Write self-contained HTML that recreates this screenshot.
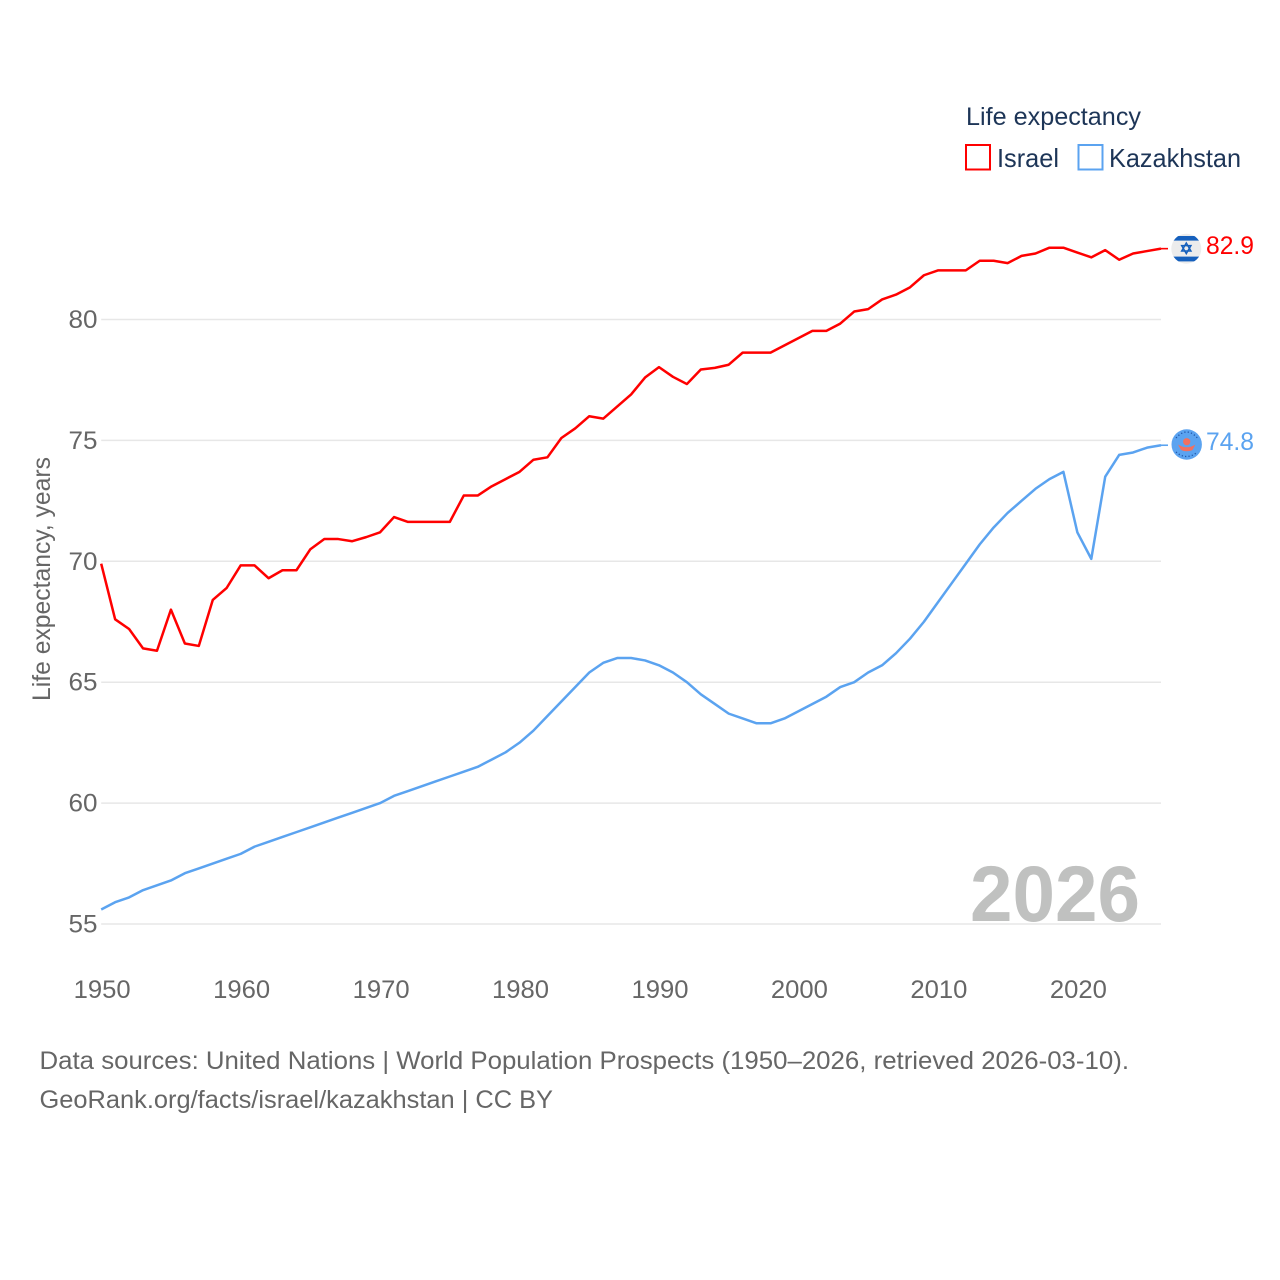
<!DOCTYPE html>
<html lang="en">
<head>
<meta charset="utf-8">
<title>Life expectancy: Israel and Kazakhstan</title>
<style>
html,body{margin:0;padding:0;background:#fff;}
svg{display:block;font-family:"Liberation Sans",sans-serif;}
</style>
</head>
<body>
<svg id="chart" xmlns="http://www.w3.org/2000/svg" width="1280" height="1280" viewBox="0 0 1280 1280">
  <rect x="0" y="0" width="1280" height="1280" fill="#ffffff"/>
  <g id="grid"></g>
  <g id="yticks"></g>
  <g id="xticks"></g>
  <text x="970" y="921" font-size="79" font-weight="700" fill="#c0c1c0" textLength="170" lengthAdjust="spacingAndGlyphs">2026</text>
  <g id="series"></g>
  <g id="end-labels"></g>

  <text transform="translate(50,701) rotate(-90)" font-size="25" fill="#666666" textLength="244" lengthAdjust="spacingAndGlyphs">Life expectancy, years</text>

  <g>
    <text x="966" y="125" font-size="25" fill="#1d3557" textLength="175" lengthAdjust="spacingAndGlyphs">Life expectancy</text>
    <g>
      <rect x="966" y="145" width="24" height="24.5" fill="none" stroke="#ff0000" stroke-width="2"/>
      <text x="997" y="167" font-size="26" fill="#1d3557" textLength="62" lengthAdjust="spacingAndGlyphs">Israel</text>
    </g>
    <g>
      <rect x="1078.5" y="145" width="24" height="24.5" fill="none" stroke="#5ba3f0" stroke-width="2"/>
      <text x="1109" y="167" font-size="26" fill="#1d3557" textLength="132" lengthAdjust="spacingAndGlyphs">Kazakhstan</text>
    </g>
  </g>

  <defs>
    <clipPath id="clip-il"><circle cx="1186.3" cy="248.7" r="15"/></clipPath>
    <clipPath id="clip-kz"><circle cx="1186.7" cy="444.5" r="15.2"/></clipPath>
  </defs>
  <g clip-path="url(#clip-il)">
    <rect x="1170" y="233" width="34" height="32" fill="#ececec"/>
    <rect x="1170" y="236" width="34" height="4.6" fill="#1560bd"/>
    <rect x="1170" y="256.6" width="34" height="4.8" fill="#1560bd"/>
    <polygon points="1186.3,243 1190.9,251 1181.7,251" fill="none" stroke="#1560bd" stroke-width="1.5"/>
    <polygon points="1186.3,253.6 1190.9,245.6 1181.7,245.6" fill="none" stroke="#1560bd" stroke-width="1.5"/>
  </g>
  <g clip-path="url(#clip-kz)">
    <rect x="1170" y="428" width="34" height="34" fill="#5ba3f0"/>
    <circle cx="1186.7" cy="441.7" r="3.6" fill="#f2705f"/>
    <path d="M1178 444.5 Q1186.7 450 1195.4 444.5 L1192.5 450 Q1186.7 452.5 1181 450 Z" fill="#f2705f"/>
    <path d="M1176 438 Q1186.7 426 1197.4 438" fill="none" stroke="#1f55a8" stroke-width="1.3" stroke-dasharray="1.2 2.2"/>
    <path d="M1176 452 Q1186.7 461 1197.4 452" fill="none" stroke="#1f55a8" stroke-width="1.3" stroke-dasharray="1.2 2.2"/>
  </g>

  <g>
    <text x="39.5" y="1069" font-size="25" fill="#666666" textLength="1089.5" lengthAdjust="spacingAndGlyphs">Data sources: United Nations | World Population Prospects (1950–2026, retrieved 2026-03-10).</text>
    <text x="39.5" y="1108" font-size="25" fill="#666666" textLength="513.5" lengthAdjust="spacingAndGlyphs">GeoRank.org/facts/israel/kazakhstan | CC BY</text>
  </g>
</svg>
<script>
var years = [1950,1951,1952,1953,1954,1955,1956,1957,1958,1959,1960,1961,1962,1963,1964,1965,1966,1967,1968,1969,1970,1971,1972,1973,1974,1975,1976,1977,1978,1979,1980,1981,1982,1983,1984,1985,1986,1987,1988,1989,1990,1991,1992,1993,1994,1995,1996,1997,1998,1999,2000,2001,2002,2003,2004,2005,2006,2007,2008,2009,2010,2011,2012,2013,2014,2015,2016,2017,2018,2019,2020,2021,2022,2023,2024,2025,2026];
var israelValues = [69.9,67.6,67.2,66.4,66.3,68.0,66.6,66.5,68.4,68.9,69.83,69.83,69.3,69.63,69.63,70.5,70.92,70.92,70.83,71.0,71.2,71.83,71.63,71.63,71.63,71.63,72.72,72.72,73.1,73.4,73.7,74.2,74.3,75.1,75.5,76.0,75.9,76.4,76.9,77.6,78.03,77.63,77.33,77.93,78.0,78.13,78.63,78.63,78.63,78.93,79.23,79.53,79.53,79.83,80.33,80.43,80.83,81.03,81.33,81.83,82.03,82.03,82.03,82.43,82.43,82.33,82.63,82.73,82.97,82.97,82.77,82.57,82.87,82.47,82.73,82.83,82.93];
var kazakhstanValues = [55.6,55.9,56.1,56.4,56.6,56.8,57.1,57.3,57.5,57.7,57.9,58.2,58.4,58.6,58.8,59.0,59.2,59.4,59.6,59.8,60.0,60.3,60.5,60.7,60.9,61.1,61.3,61.5,61.8,62.1,62.5,63.0,63.6,64.2,64.8,65.4,65.8,66.0,66.0,65.9,65.7,65.4,65.0,64.5,64.1,63.7,63.5,63.3,63.3,63.5,63.8,64.1,64.4,64.8,65.0,65.4,65.7,66.2,66.8,67.5,68.3,69.1,69.9,70.7,71.4,72.0,72.5,73.0,73.4,73.7,71.2,70.1,73.5,74.4,74.5,74.7,74.8];
var yTickLabels = [55,60,65,70,75,80];
var xTickLabels = [1950,1960,1970,1980,1990,2000,2010,2020];
var israelEndLabel = "82.9";
var kazakhstanEndLabel = "74.8";

var NS = "http://www.w3.org/2000/svg";
function xScale(year) { return 101.2 + (year - 1950) * (1161 - 101.2) / 76; }
function yScale(value) { return 924 - (value - 55) * (924 - 319.5) / 25; }

var gridGroup = document.getElementById("grid");
var yTickGroup = document.getElementById("yticks");
var xTickGroup = document.getElementById("xticks");
var seriesGroup = document.getElementById("series");
var endLabelGroup = document.getElementById("end-labels");

yTickLabels.forEach(function (tick) {
  var line = document.createElementNS(NS, "line");
  
  
  line.setAttribute("x1", xScale(1950));
  line.setAttribute("x2", xScale(2026));
  line.setAttribute("y1", yScale(tick));
  line.setAttribute("y2", yScale(tick));
  line.setAttribute("stroke", "#e7e7e7");
  line.setAttribute("stroke-width", "1.5");
  gridGroup.appendChild(line);

  var label = document.createElementNS(NS, "text");
  
  
  label.setAttribute("x", 68.5);
  label.setAttribute("y", yScale(tick) + 8.5);
  label.setAttribute("font-size", "25");
  label.setAttribute("fill", "#666666");
  label.setAttribute("textLength", "29");
  label.setAttribute("lengthAdjust", "spacingAndGlyphs");
  label.textContent = tick;
  yTickGroup.appendChild(label);
});

xTickLabels.forEach(function (tick) {
  var label = document.createElementNS(NS, "text");
  
  
  label.setAttribute("x", xScale(tick) - 27.5);
  label.setAttribute("y", 998);
  label.setAttribute("font-size", "25");
  label.setAttribute("fill", "#666666");
  label.setAttribute("textLength", "57");
  label.setAttribute("lengthAdjust", "spacingAndGlyphs");
  label.textContent = tick;
  xTickGroup.appendChild(label);
});

function linePath(values) {
  return values.map(function (value, i) {
    return (i ? "L" : "M") + xScale(years[i]).toFixed(2) + " " + yScale(value).toFixed(2);
  }).join(" ");
}

var israelLine = document.createElementNS(NS, "path");


israelLine.setAttribute("d", linePath(israelValues));
israelLine.setAttribute("fill", "none");
israelLine.setAttribute("stroke", "#ff0000");
israelLine.setAttribute("stroke-width", "2.5");
israelLine.setAttribute("stroke-linejoin", "round");
seriesGroup.appendChild(israelLine);

var kazakhstanLine = document.createElementNS(NS, "path");


kazakhstanLine.setAttribute("d", linePath(kazakhstanValues));
kazakhstanLine.setAttribute("fill", "none");
kazakhstanLine.setAttribute("stroke", "#5ba3f0");
kazakhstanLine.setAttribute("stroke-width", "2.5");
kazakhstanLine.setAttribute("stroke-linejoin", "round");
seriesGroup.appendChild(kazakhstanLine);

var israelLast = israelValues[israelValues.length - 1];
var israelConnector = document.createElementNS(NS, "line");


israelConnector.setAttribute("x1", xScale(2026));
israelConnector.setAttribute("x2", xScale(2026) + 7);
israelConnector.setAttribute("y1", yScale(israelLast));
israelConnector.setAttribute("y2", yScale(israelLast));
israelConnector.setAttribute("stroke", "#ff0000");
israelConnector.setAttribute("stroke-width", "1.6");
endLabelGroup.appendChild(israelConnector);

var kazakhstanLast = kazakhstanValues[kazakhstanValues.length - 1];
var kazakhstanConnector = document.createElementNS(NS, "line");


kazakhstanConnector.setAttribute("x1", xScale(2026));
kazakhstanConnector.setAttribute("x2", xScale(2026) + 7);
kazakhstanConnector.setAttribute("y1", yScale(kazakhstanLast));
kazakhstanConnector.setAttribute("y2", yScale(kazakhstanLast));
kazakhstanConnector.setAttribute("stroke", "#5ba3f0");
kazakhstanConnector.setAttribute("stroke-width", "1.6");
endLabelGroup.appendChild(kazakhstanConnector);

var israelLabel = document.createElementNS(NS, "text");


israelLabel.setAttribute("x", 1206);
israelLabel.setAttribute("y", 254);
israelLabel.setAttribute("font-size", "25");
israelLabel.setAttribute("fill", "#ff0000");
israelLabel.setAttribute("textLength", "48");
israelLabel.setAttribute("lengthAdjust", "spacingAndGlyphs");
israelLabel.textContent = israelEndLabel;
endLabelGroup.appendChild(israelLabel);

var kazakhstanLabel = document.createElementNS(NS, "text");


kazakhstanLabel.setAttribute("x", 1206);
kazakhstanLabel.setAttribute("y", 450);
kazakhstanLabel.setAttribute("font-size", "25");
kazakhstanLabel.setAttribute("fill", "#5ba3f0");
kazakhstanLabel.setAttribute("textLength", "48");
kazakhstanLabel.setAttribute("lengthAdjust", "spacingAndGlyphs");
kazakhstanLabel.textContent = kazakhstanEndLabel;
endLabelGroup.appendChild(kazakhstanLabel);
</script>
</body>
</html>
